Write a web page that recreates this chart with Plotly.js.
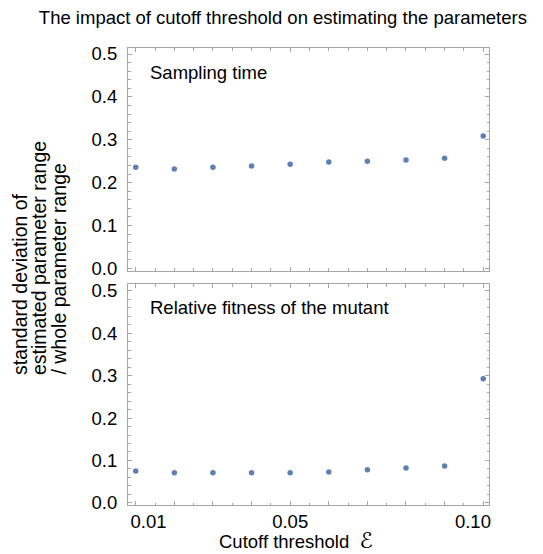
<!DOCTYPE html>
<html>
<head>
<meta charset="utf-8">
<script src="https://cdn.plot.ly/plotly-3.0.1.min.js"></script>
<style>html,body{margin:0;padding:0;background:#fff;}</style>
</head>
<body>
<div id="chart" style="width:543px;height:554px;"></div>
<script>
// Data
const cutoffThreshold = [0.01, 0.02, 0.03, 0.04, 0.05, 0.06, 0.07, 0.08, 0.09, 0.10];
const samplingTimeSD = [0.236, 0.232, 0.236, 0.239, 0.243, 0.248, 0.250, 0.253, 0.257, 0.309];
const relativeFitnessSD = [0.075, 0.071, 0.071, 0.071, 0.071, 0.073, 0.078, 0.082, 0.087, 0.293];
const xTickVals = [0.01, 0.05, 0.10];
const xTickText = ['0.01', '0.05', '0.10'];
const yTickVals = [0.0, 0.1, 0.2, 0.3, 0.4, 0.5];
const yTickText = ['0.0', '0.1', '0.2', '0.3', '0.4', '0.5'];
const panelLabels = ['Sampling time', 'Relative fitness of the mutant'];
const yTitleLines = ['standard deviation of', 'estimated parameter range', '/ whole parameter range'];
const xTitle = 'Cutoff threshold  <span style="font-family:DejaVu Sans;font-size:22px">ℰ</span>';

const FONT = 'Liberation Sans, Arial, Helvetica, sans-serif';
const FS = 18.5;
const markerColor = '#5e81b5';
const frameColor = '#a6a6a6';
const NB = '\u00a0';

// the reference nudges the outer x labels inward, away from the frame corners
const xTickTextShown = xTickText.map((t, i) =>
  i === 0 ? NB.repeat(5) + t : (i === xTickText.length - 1 ? t + NB.repeat(4) : t));

const traces = [
  {x: cutoffThreshold, y: samplingTimeSD, xaxis: 'x', yaxis: 'y', mode: 'markers', type: 'scatter',
   marker: {color: markerColor, size: 5.5}, hoverinfo: 'x+y'},
  {x: cutoffThreshold, y: relativeFitnessSD, xaxis: 'x2', yaxis: 'y2', mode: 'markers', type: 'scatter',
   marker: {color: markerColor, size: 5.5}, hoverinfo: 'x+y'}
];

const xCommon = {
  range: [0.008, 0.1015], showline: true, linecolor: frameColor, linewidth: 1, mirror: 'ticks',
  ticks: 'inside', ticklen: 4, tickcolor: frameColor,
  tickvals: cutoffThreshold, ticktext: cutoffThreshold.map(v => {
    const k = xTickVals.findIndex(t => Math.abs(t - v) < 1e-9);
    return k >= 0 ? xTickTextShown[k] : '';
  }),
  minor: {dtick: 0.005, tick0: 0, ticks: 'inside', ticklen: 2.5, tickcolor: frameColor, showgrid: false},
  showgrid: false, zeroline: false, tickfont: {family: FONT, size: FS, color: '#000'}
};
const yCommon = {
  showline: true, linecolor: frameColor, linewidth: 1, mirror: 'ticks',
  ticks: 'inside', ticklen: 4, tickcolor: frameColor, tickvals: yTickVals, ticktext: yTickText,
  minor: {dtick: 0.02, tick0: 0, ticks: 'inside', ticklen: 2.5, tickcolor: frameColor, showgrid: false},
  showgrid: false, zeroline: false, tickfont: {family: FONT, size: FS, color: '#000'}, ticklabelstandoff: 6
};

// plot area in pixels: left 128, width 361, bottom 505, height 457
const yTitleX = [20, 39, 58];
const annotations = [
  {text: panelLabels[0], xref: 'x domain', yref: 'y domain', x: 0.055, y: 0.89, xanchor: 'left', yanchor: 'middle',
   showarrow: false, font: {family: FONT, size: FS, color: '#000'}},
  {text: panelLabels[1], xref: 'x2 domain', yref: 'y2 domain', x: 0.055, y: 0.895, xanchor: 'left', yanchor: 'middle',
   showarrow: false, font: {family: FONT, size: FS, color: '#000'}},
  {text: xTitle, xref: 'paper', yref: 'paper', x: (296 - 128) / 361, y: (505 - 540) / 457,
   xanchor: 'center', yanchor: 'middle', showarrow: false, font: {family: FONT, size: FS, color: '#000'}}
].concat(yTitleLines.map((line, i) => ({
  text: line, xref: 'paper', yref: 'paper', x: (yTitleX[i] - 128) / 361, y: (505 - 377) / 457,
  xanchor: 'center', yanchor: 'bottom', textangle: -90, showarrow: false,
  font: {family: FONT, size: 19.5, color: '#000'}
})));

const layout = {
  width: 543, height: 554,
  margin: {l: 128, r: 54, t: 48, b: 49},
  paper_bgcolor: '#fff', plot_bgcolor: '#fff',
  showlegend: false,
  title: {text: 'The impact of cutoff threshold on estimating the parameters',
          font: {family: FONT, size: FS, color: '#000'}, xref: 'container', x: 0.521, xanchor: 'center',
          yref: 'container', y: 0.9675, yanchor: 'middle'},
  xaxis: Object.assign({}, xCommon, {anchor: 'y', showticklabels: false, matches: 'x2'}),
  yaxis: Object.assign({}, yCommon, {domain: [0.513, 1], range: [-0.005, 0.514], anchor: 'x'}),
  xaxis2: Object.assign({}, xCommon, {anchor: 'y2', showticklabels: true}),
  yaxis2: Object.assign({}, yCommon, {domain: [0, 0.4825], range: [-0.005, 0.515], anchor: 'x2'}),
  annotations: annotations
};

Plotly.newPlot('chart', traces, layout, {displayModeBar: false, staticPlot: true});
</script>
</body>
</html>
